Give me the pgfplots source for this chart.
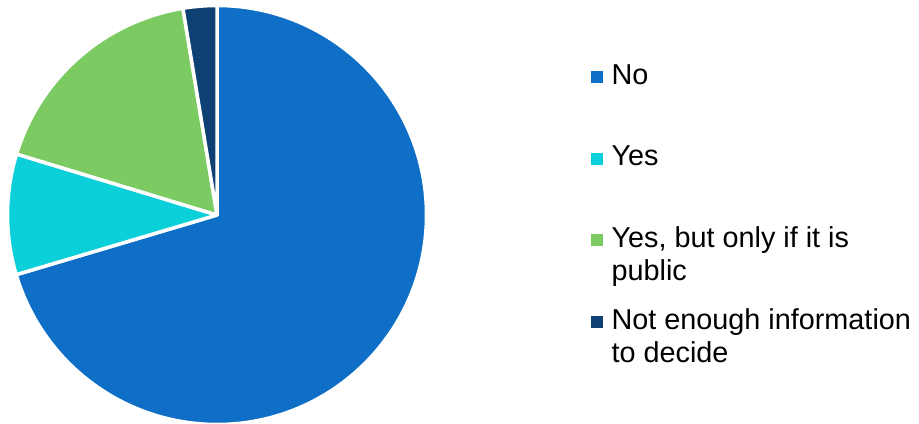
\documentclass[border=0pt]{standalone}
\usepackage{fontspec}
\setmainfont{Liberation Sans}
\usepackage{pgfplots}
\usepackage{pgfplotstable}
\pgfplotsset{compat=1.18}

\definecolor{slice0}{HTML}{0F6FC6}
\definecolor{slice1}{HTML}{0BD0D9}
\definecolor{slice2}{HTML}{7CCA62}
\definecolor{slice3}{HTML}{0E4073}

% shares in percent, clockwise from 12 o'clock
\pgfplotstableread{
share
70.4
9.3
17.7
2.6
}\piedata

\def\pierad{209.5bp}

\begin{document}
\begin{tikzpicture}
\useasboundingbox (0,0) rectangle (919bp,424bp);
\begin{axis}[
  x=1bp, y=1bp,
  xmin=-217, xmax=702, ymin=-209, ymax=215,
  anchor=south west, at={(0,0)},
  hide axis, clip=false,
  legend style={draw=none, fill=none, inner sep=0pt,
    at={(0.6431,0.8490)}, anchor=north west,
    row sep=61.7bp, column sep=9bp,
    font=\fontsize{28.8bp}{33bp}\selectfont,
    nodes={inner sep=0pt, text height=20bp, text depth=0pt}},
  legend cell align=left,
]
\def\cum{90}
\pgfplotsinvokeforeach{0,...,3}{
  \pgfplotstablegetelem{#1}{share}\of\piedata
  \pgfmathsetmacro\endang{\cum-3.6*\pgfplotsretval}
  \edef\temp{\noexpand\filldraw[fill=slice#1,draw=white,line width=3.5bp,line join=round]
    (axis cs:0,0) -- ++(\cum:\pierad) arc[start angle=\cum,end angle=\endang,radius=\pierad] -- cycle;}
  \temp
  \xdef\cum{\endang}
}
\addlegendimage{legend image code/.code={\fill[slice0] (0bp,-8bp) rectangle (11bp,3bp);}}
\addlegendentry{No}
\addlegendimage{legend image code/.code={\fill[slice1] (0bp,-8bp) rectangle (11bp,3bp);}}
\addlegendentry{Yes}
\addlegendimage{legend image code/.code={\fill[slice2] (0bp,-8bp) rectangle (11bp,3bp);}}
\addlegendentry{\parbox[t]{320bp}{Yes, but only if it is\\public}}
\addlegendimage{legend image code/.code={\fill[slice3] (0bp,-8bp) rectangle (11bp,3bp);}}
\addlegendentry{\parbox[t]{320bp}{Not enough information\\to decide}}
\end{axis}
\end{tikzpicture}
\end{document}
